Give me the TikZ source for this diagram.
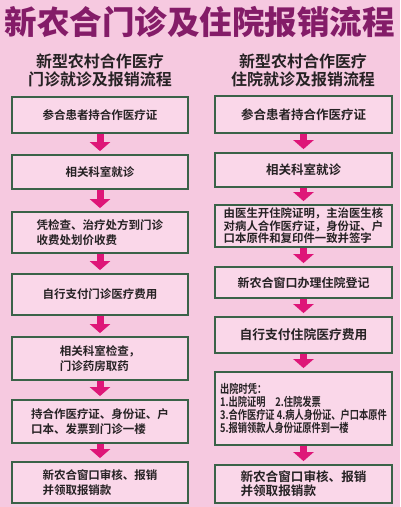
\documentclass[tikz,border=0pt]{standalone}
\usepackage{fontspec}
\setmainfont{Noto Sans CJK SC}[BoldFont=Noto Sans CJK SC Bold]
\newfontfamily\cjkheavy{Noto Sans CJK SC Black}
\newfontfamily\cjkmid{Noto Sans CJK SC Bold}
\newfontfamily\cjknarrow{Noto Sans CJK SC Bold}[FakeStretch=0.77]
\usetikzlibrary{arrows.meta}
\definecolor{bgpink}{RGB}{246,201,224}
\definecolor{boxpink}{RGB}{250,215,233}
\definecolor{boxgreen}{RGB}{58,98,72}
\definecolor{arrowred}{RGB}{222,22,120}
\definecolor{titlepurple}{RGB}{132,28,104}
\definecolor{boxtext}{RGB}{38,34,36}
\tikzset{
  stepbox/.style={rectangle, draw=boxgreen, fill=boxpink, line width=1.8pt,
    minimum width=176pt, inner sep=0pt, align=left, text=boxtext,
    font=\cjkmid\fontsize{11.5}{15}\selectfont},
  colhead/.style={align=center, text=boxtext,
    font=\bfseries\fontsize{16}{17.5}\selectfont},
  flow/.style={-{Triangle[width=20pt,length=9pt]}, line width=7pt,
    color=arrowred, shorten >=3pt}
}
\begin{document}
\begin{tikzpicture}[x=1pt,y=-1pt]
  \useasboundingbox (0,0) rectangle (400,507);
  \fill[bgpink] (0,0) rectangle (400,507);

  % Title
  \node[text=titlepurple, font=\cjkheavy\fontsize{32.5}{34}\selectfont] (title) at (200,22) {新农合门诊及住院报销流程};

  % Column heads
  \node[colhead] (headL) at (100,70.5) {新型农村合作医疗\\门诊就诊及报销流程};
  \node[colhead] (headR) at (303,70.5) {新型农村合作医疗\\住院就诊及报销流程};

  % Outpatient column
  \node[stepbox, minimum height=36pt] (l1) at (100,115) {参合患者持合作医疗证};
  \node[stepbox, minimum height=34pt] (l2) at (100,172) {相关科室就诊};
  \node[stepbox, minimum height=41pt] (l3) at (100,232.5) {凭检查、治疗处方到门诊\\收费处划价收费};
  \node[stepbox, minimum height=41pt] (l4) at (100,294.5) {自行支付门诊医疗费用};
  \node[stepbox, minimum height=43pt] (l5) at (100,358.5) {相关科室检查，\\门诊药房取药};
  \node[stepbox, minimum height=43pt] (l6) at (100,421.5) {持合作医疗证、身份证、户\\口本、发票到门诊一楼};
  \node[stepbox, minimum height=41pt] (l7) at (100,482.5) {新农合窗口审核、报销\\并领取报销款};

  % Inpatient column
  \node[stepbox, minimum width=177pt, minimum height=37pt, font=\cjkmid\fontsize{12.5}{15}\selectfont] (r1) at (303.5,114.5) {参合患者持合作医疗证};
  \node[stepbox, minimum width=177pt, minimum height=34pt, font=\cjkmid\fontsize{12.5}{15}\selectfont] (r2) at (303.5,170) {相关科室就诊};
  \node[stepbox, minimum width=177pt, minimum height=42pt, font=\cjkmid\fontsize{11.4}{12.6}\selectfont] (r3) at (303.5,226) {由医生开住院证明，主治医生核\\对病人合作医疗证，身份证、户\\口本原件和复印件一致并签字};
  \node[stepbox, minimum width=177pt, minimum height=31pt, font=\cjkmid\fontsize{12}{15}\selectfont] (r4) at (303.5,282.5) {新农合窗口办理住院登记};
  \node[stepbox, minimum width=177pt, minimum height=36pt, font=\cjkmid\fontsize{12.8}{15}\selectfont] (r5) at (303.5,335) {自行支付住院医疗费用};
  \node[stepbox, minimum width=177pt, minimum height=73pt, font=\cjknarrow\fontsize{12}{13}\selectfont] (r6) at (303.5,408.5) {出院时凭：\\1.出院证明\hspace{10pt}2.住院发票\\3.合作医疗证 4.病人身份证、户口本原件\\5.报销领款人身份证原件到一楼};
  \node[stepbox, minimum width=177pt, minimum height=38pt, font=\cjkmid\fontsize{12.6}{14}\selectfont] (r7) at (303.5,484) {新农合窗口审核、报销\\并领取报销款};

  % Arrows
  \draw[flow] (l1) -- (l2);
  \draw[flow] (l2) -- (l3);
  \draw[flow] (l3) -- (l4);
  \draw[flow] (l4) -- (l5);
  \draw[flow] (l5) -- (l6);
  \draw[flow] (l6) -- (l7);
  \draw[flow] (r1) -- (r2);
  \draw[flow] (r2) -- (r3);
  \draw[flow] (r3) -- (r4);
  \draw[flow] (r4) -- (r5);
  \draw[flow] (r5) -- (r6);
  \draw[flow] (r6) -- (r7);
\end{tikzpicture}
\end{document}
